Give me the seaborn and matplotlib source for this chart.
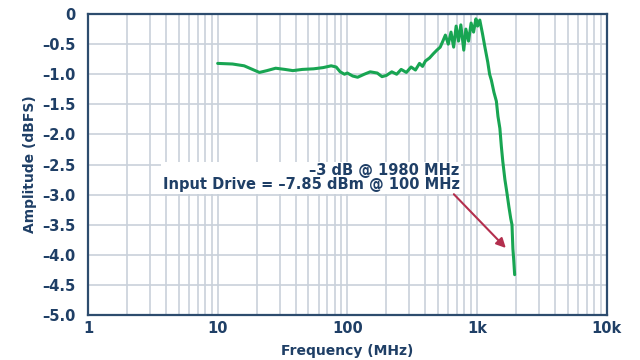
import matplotlib
matplotlib.use("Agg")
import matplotlib.pyplot as plt
import seaborn as sns
import pandas as pd
from matplotlib.ticker import LogLocator, NullFormatter

freq_mhz = [10, 13, 16, 19, 21, 24, 28, 33, 38, 45, 55, 65, 75, 82, 88, 95, 100,
            110, 120, 135, 150, 170, 185, 200, 220, 240, 260, 285, 310, 335, 360,
            380, 400, 430, 460, 490, 520, 545, 570, 600, 630, 660, 690, 720, 750,
            790, 820, 860, 900, 940, 980, 1010, 1050, 1100, 1150, 1210, 1250, 1290,
            1350, 1410, 1450, 1500, 1540, 1580, 1640, 1700, 1760, 1820, 1860, 1890,
            1920, 1950]
amp_dbfs = [-0.82, -0.83, -0.86, -0.93, -0.97, -0.94, -0.90, -0.92, -0.94, -0.92,
            -0.91, -0.89, -0.86, -0.88, -0.96, -1.00, -0.98, -1.03, -1.05, -1.00,
            -0.96, -0.98, -1.04, -1.02, -0.96, -1.00, -0.92, -0.97, -0.88, -0.93,
            -0.82, -0.87, -0.78, -0.73, -0.66, -0.60, -0.55, -0.45, -0.35, -0.50,
            -0.30, -0.55, -0.20, -0.45, -0.18, -0.60, -0.25, -0.45, -0.15, -0.30,
            -0.08, -0.20, -0.10, -0.32, -0.55, -0.80, -1.00, -1.10, -1.30, -1.45,
            -1.70, -1.90, -2.20, -2.45, -2.75, -2.97, -3.20, -3.40, -3.50, -3.90,
            -4.10, -4.33]

y_ticks = [0, -0.5, -1.0, -1.5, -2.0, -2.5, -3.0, -3.5, -4.0, -4.5, -5.0]
y_tick_labels = ["0", "–0.5", "–1.0", "–1.5", "–2.0", "–2.5", "–3.0", "–3.5",
                 "–4.0", "–4.5", "–5.0"]
x_ticks = [1, 10, 100, 1000, 10000]
x_tick_labels = ["1", "10", "100", "1k", "10k"]
annot_lines = "–3 dB @ 1980 MHz\nInput Drive = –7.85 dBm @ 100 MHz"

sns.set_style("white")
plt.rcParams['font.family'] = ['DejaVu Sans']

navy = "#1f3f66"
grid_c = "#c9d1da"

fig = plt.figure(figsize=(6.4, 3.6), dpi=100)
ax = fig.add_axes([0.1375, 0.125, 0.8105, 0.836])

df = pd.DataFrame({"Frequency (MHz)": freq_mhz, "Amplitude (dBFS)": amp_dbfs})
sns.lineplot(data=df, x="Frequency (MHz)", y="Amplitude (dBFS)", ax=ax,
             color="#18a552", linewidth=2.2, zorder=3)

ax.set_xscale("log")
ax.set_xlim(1, 10000)
ax.set_ylim(-5.0, 0)
ax.set_xticks(x_ticks)
ax.set_xticklabels(x_tick_labels)
ax.xaxis.set_minor_locator(LogLocator(base=10, subs=range(2, 10)))
ax.xaxis.set_minor_formatter(NullFormatter())
ax.set_yticks(y_ticks)
ax.set_yticklabels(y_tick_labels)

ax.grid(True, which="major", color=grid_c, linewidth=1.2, zorder=0)
ax.grid(True, which="minor", axis="x", color=grid_c, linewidth=1.2, zorder=0)
ax.tick_params(axis="x", which="both", length=0, pad=4,
               labelsize=10.5, labelcolor=navy)
ax.tick_params(axis="y", which="both", length=0, pad=9,
               labelsize=10.5, labelcolor=navy)
for lab in ax.get_xticklabels() + ax.get_yticklabels():
    lab.set_fontweight("bold")

for s in ax.spines.values():
    s.set_color("#2d4c6e")
    s.set_linewidth(1.6)

ax.set_xlabel("Frequency (MHz)", fontsize=10, fontweight="bold", color=navy, labelpad=6)
ax.set_ylabel("Amplitude (dBFS)", fontsize=10, fontweight="bold", color=navy, labelpad=4)

ax.text(736, -2.72, annot_lines, ha="right", va="center", fontsize=10.5,
        fontweight="bold", color=navy, linespacing=0.95, zorder=4,
        bbox=dict(facecolor="white", edgecolor="none", pad=1.0))
ax.annotate("", xy=(1726, -3.92), xytext=(640, -2.96),
            arrowprops=dict(arrowstyle="-|>", color="#b32f4e", lw=1.5,
                            mutation_scale=14), zorder=5)

fig.savefig("out.png", dpi=100)
